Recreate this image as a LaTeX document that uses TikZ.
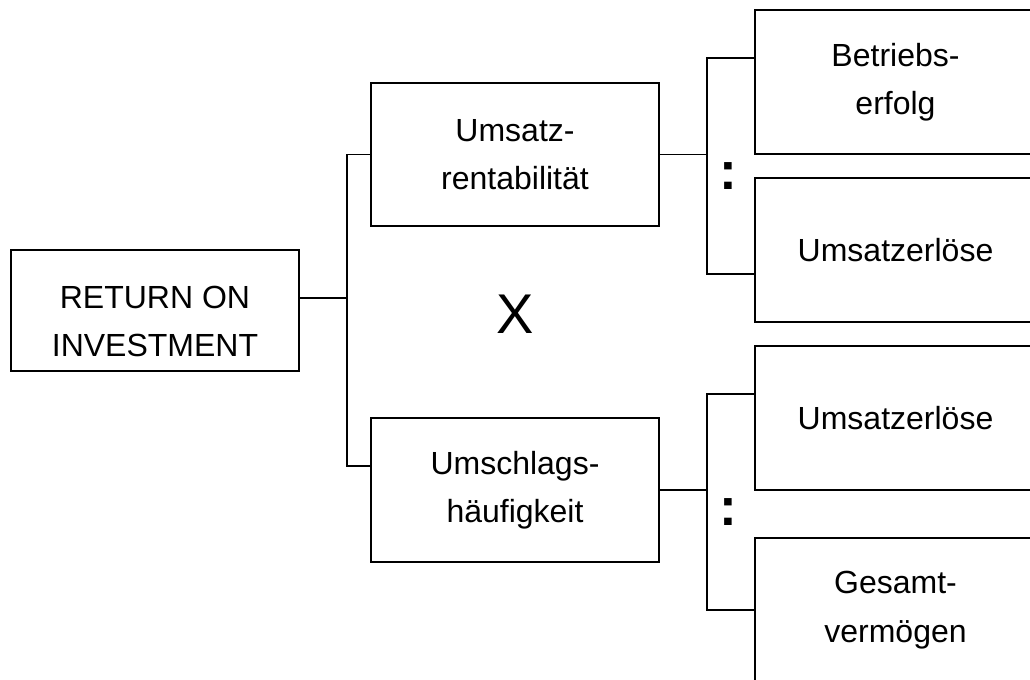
\documentclass[tikz,border=0pt]{standalone}
\usepackage{fontspec}
\setmainfont{Liberation Sans}
\begin{document}
\begin{tikzpicture}[x=0.75pt,y=-0.75pt,
  box/.style={draw,line width=1.8pt,inner sep=0pt,align=center,font=\fontsize{24}{36.4}\selectfont},
  wide/.style={minimum width=216pt},
  rbox/.style={minimum width=210.75pt,minimum height=108pt},
  conn/.style={line width=1.3pt},
  colon/.style={inner sep=0pt,anchor=base,font=\fontsize{40}{40}\bfseries\selectfont}]
\clip (0,0) rectangle (1030,679);
\node[box,wide,minimum height=90.75pt,text height=69.75pt] (roi) at (155,310.5) {RETURN ON\\INVESTMENT};
\node[box,wide,minimum height=107.25pt] (umsatz) at (515,154.5) {Umsatz-\\rentabilität};
\node[box,wide,minimum height=108pt] (umschlag) at (515,490) {Umschlags-\\häufigkeit};
\node[box,rbox] (betrieb) at (895.5,82) {Betriebs-\\erfolg};
\node[box,rbox] (erloesA) at (895.5,250) {Umsatzerlöse};
\node[box,rbox] (erloesB) at (895.5,418) {Umsatzerlöse};
\node[box,rbox] (gesamt) at (895.5,610) {Gesamt-\\vermögen};
\node[font=\fontsize{42}{42}\selectfont,inner sep=0pt] (mal) at (515,314) {X};
\node[colon] (divA) at (728,189.7) {:};
\node[colon] (divB) at (728,525.7) {:};
\coordinate (j1) at (347,298);
\coordinate (j2) at (707,154.5);
\coordinate (j3) at (707,490);
\draw[conn] ([yshift=9.4pt]roi.east) -- (j1);
\draw[conn] (umsatz.west) -| (j1) |- ([yshift=18pt]umschlag.west);
\draw[conn] (umsatz.east) -- (j2);
\draw[conn] ([yshift=18pt]betrieb.west) -| (j2) |- ([yshift=-18pt]erloesA.west);
\draw[conn] (umschlag.east) -- (j3);
\draw[conn] ([yshift=18pt]erloesB.west) -| (j3) |- (gesamt.west);
\end{tikzpicture}
\end{document}
